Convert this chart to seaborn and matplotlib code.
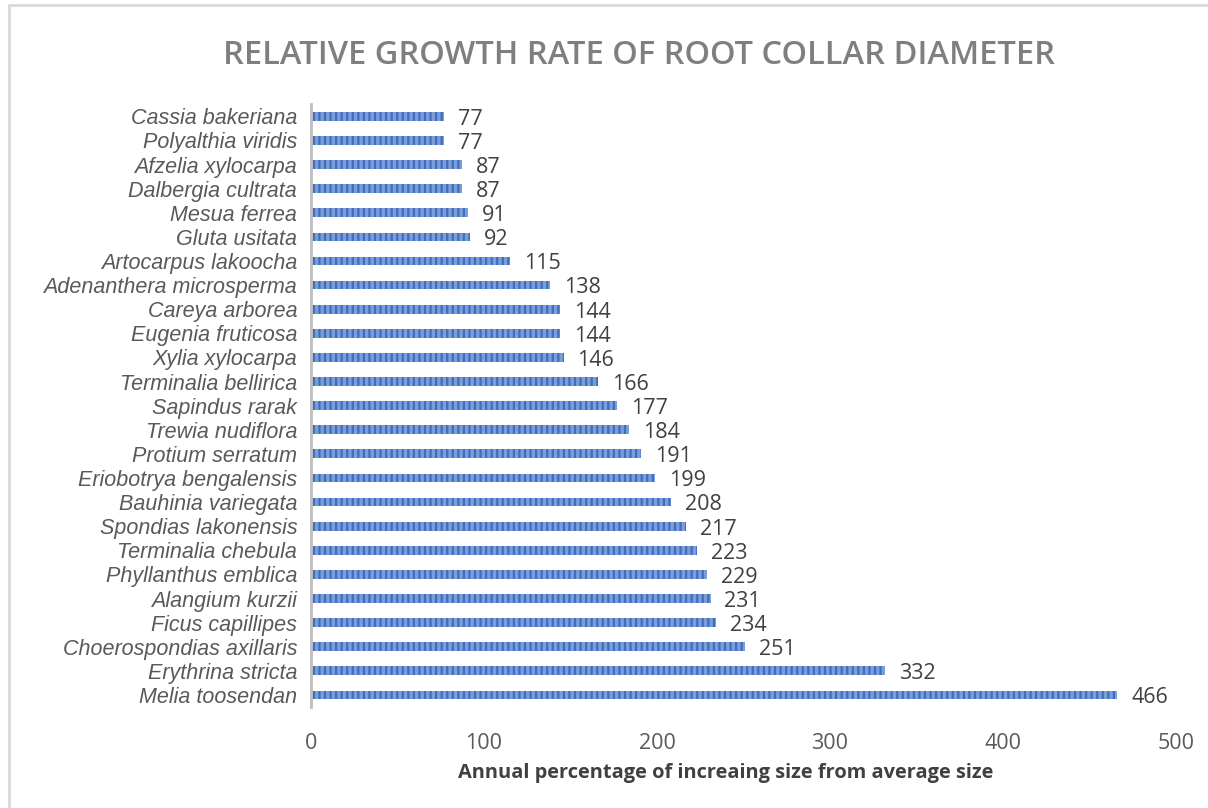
import matplotlib
matplotlib.use("Agg")
import matplotlib.pyplot as plt
import seaborn as sns
import pandas as pd
from matplotlib.lines import Line2D

species = ["Cassia bakeriana", "Polyalthia viridis", "Afzelia xylocarpa", "Dalbergia cultrata",
           "Mesua ferrea", "Gluta usitata", "Artocarpus lakoocha", "Adenanthera microsperma",
           "Careya arborea", "Eugenia fruticosa", "Xylia xylocarpa", "Terminalia bellirica",
           "Sapindus rarak", "Trewia nudiflora", "Protium serratum", "Eriobotrya bengalensis",
           "Bauhinia variegata", "Spondias lakonensis", "Terminalia chebula", "Phyllanthus emblica",
           "Alangium kurzii", "Ficus capillipes", "Choerospondias axillaris", "Erythrina stricta",
           "Melia toosendan"]
values = [77, 77, 87, 87, 91, 92, 115, 138, 144, 144, 146, 166, 177, 184, 191, 199, 208,
          217, 223, 229, 231, 234, 251, 332, 466]
xticks = [0, 100, 200, 300, 400, 500]

df = pd.DataFrame({"species": species, "value": values})

sns.set_theme(style="white")
plt.rcParams["hatch.linewidth"] = 1.6

fig = plt.figure(figsize=(12.08, 8.08), dpi=100)
ax = fig.add_axes([0.2575, 0.125, 0.9735 - 0.2575, 0.871 - 0.125])

sns.barplot(data=df, x="value", y="species", orient="h", color="#7b9ed9",
            width=0.36, ax=ax, saturation=1)
for p in ax.patches:
    p.set_hatch("|||")
    p.set_edgecolor("#3f6dc0")
    p.set_linewidth(0)

for i, v in enumerate(values):
    ax.text(v + 8, i + 0.12, str(v), va="center", ha="left", fontsize=15.5,
            color="#404040", family="Open Sans")

ax.set_xlim(0, 500)
ax.set_ylim(len(species) - 0.5, -0.5)
ax.set_xticks(xticks)
ax.set_xticklabels([str(t) for t in xticks], fontsize=15.5, color="#595959", family="Open Sans")
ax.tick_params(axis="x", length=0, pad=19)
ax.tick_params(axis="y", length=0, pad=10)
for lbl in ax.get_yticklabels():
    lbl.set_fontstyle("italic")
    lbl.set_fontsize(15.5)
    lbl.set_color("#595959")
    lbl.set_family("Liberation Sans")
ax.set_ylabel("")
ax.set_xlabel("")

for s in ["top", "right", "bottom"]:
    ax.spines[s].set_visible(False)
ax.spines["left"].set_color("#bfbfbf")
ax.spines["left"].set_linewidth(2)
ax.grid(False)

fig.text(0.601, 0.0433, "Annual percentage of increaing size from average size", ha="center",
         va="center", fontsize=14.4, fontweight="bold", color="#404040", family="Open Sans")

fig.text(0.529, 0.931, "RELATIVE GROWTH RATE OF ROOT COLLAR DIAMETER", ha="center",
         va="center", fontsize=23.5, fontweight="semibold", color="#7f7f7f", family="Open Sans")

fig.add_artist(Line2D([0.0075, 0.0075], [0, 0.9935], transform=fig.transFigure,
                      color="#d9d9d9", lw=2))
fig.add_artist(Line2D([0.0075, 1], [0.9935, 0.9935], transform=fig.transFigure,
                      color="#d9d9d9", lw=2))

fig.savefig("out.png", dpi=100)
